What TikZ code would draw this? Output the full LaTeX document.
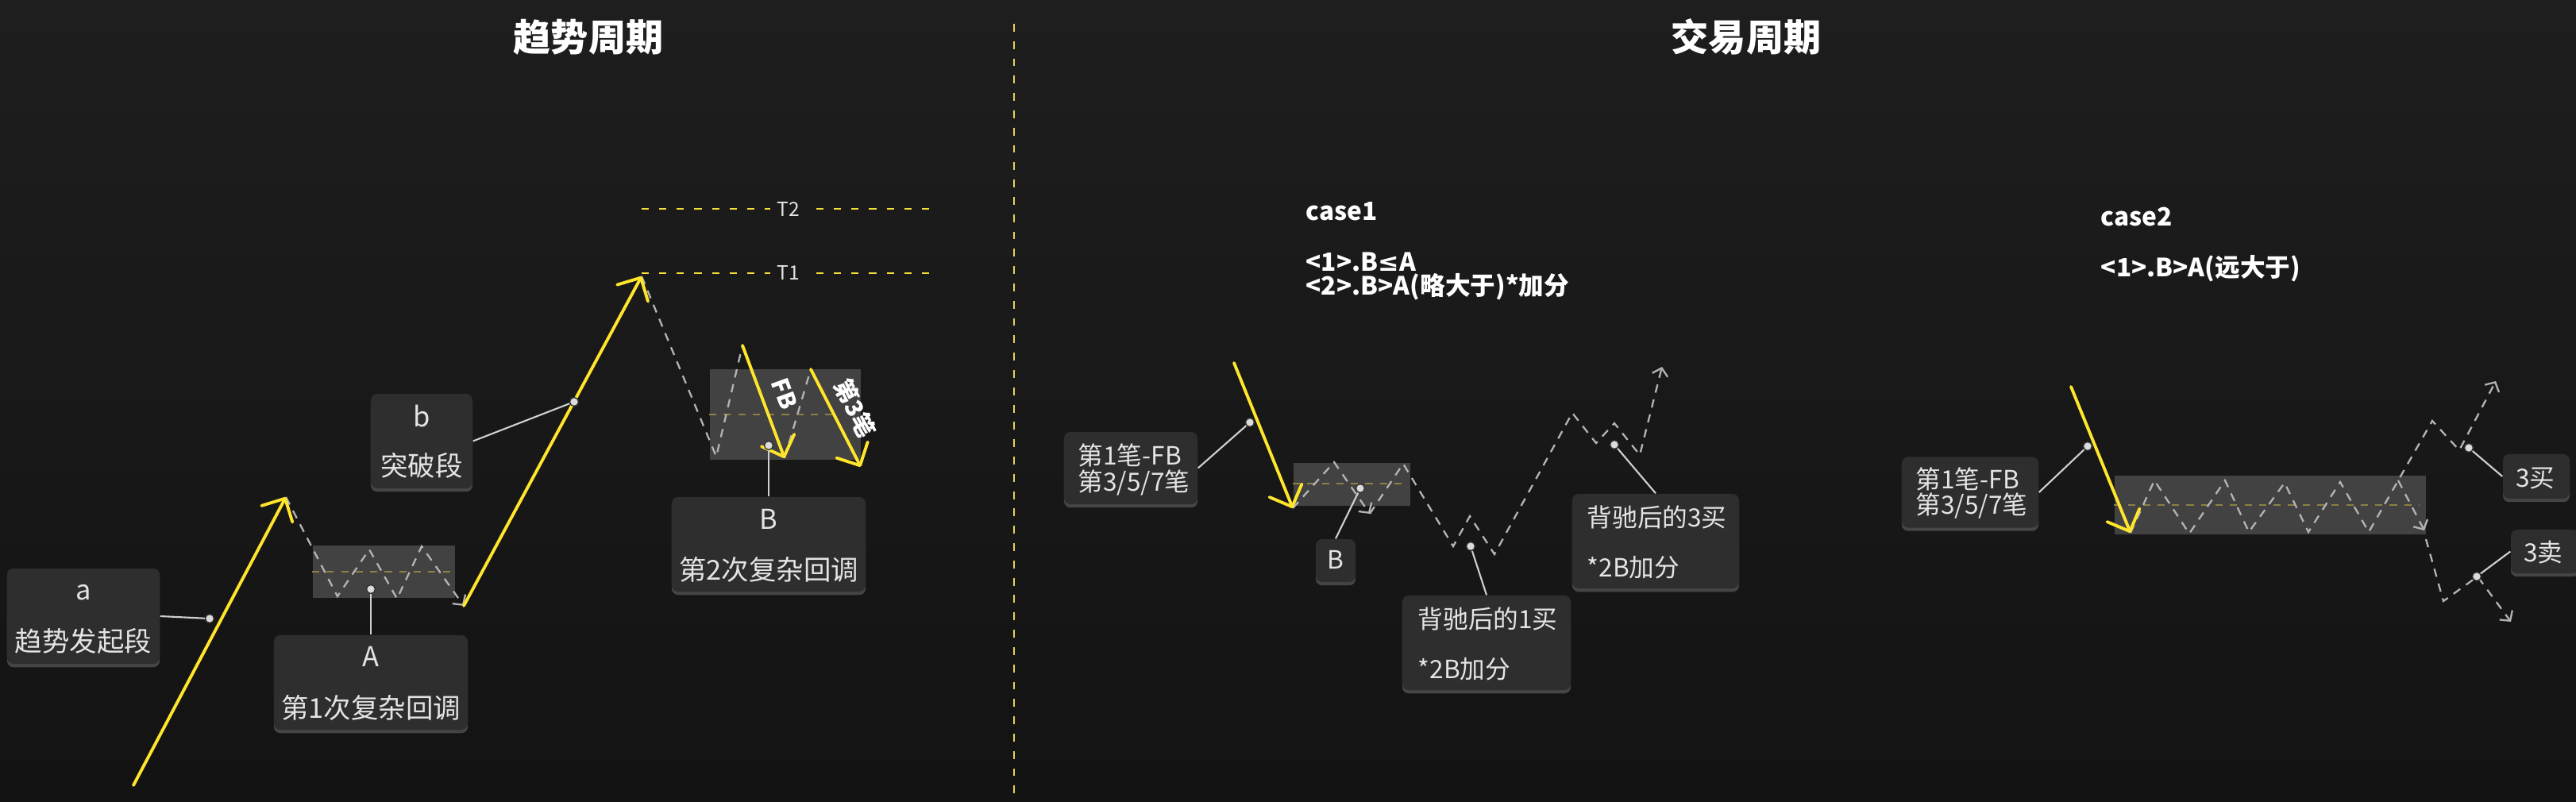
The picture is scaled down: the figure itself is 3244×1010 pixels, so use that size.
\documentclass[tikz,border=0pt]{standalone}
\usepackage{fontspec}
\setmainfont{Noto Sans CJK SC}
\newfontfamily\djv{DejaVu Sans}
\usetikzlibrary{arrows.meta,shadows}
\definecolor{bgtop}{HTML}{1E1E1E}
\definecolor{bgbot}{HTML}{131313}
\definecolor{yel}{HTML}{FFE52B}
\definecolor{yeldash}{HTML}{F5DD3A}
\definecolor{divc}{HTML}{E6D25A}
\definecolor{zone}{HTML}{424242}
\definecolor{olive}{HTML}{8C8244}
\definecolor{lbl}{HTML}{2E2E2E}
\definecolor{txt}{HTML}{E4E4E4}
\definecolor{gdash}{HTML}{B4B4B4}
\definecolor{dotc}{HTML}{DCDCDC}
\definecolor{connc}{HTML}{D0D0D0}
\tikzset{
 yarrow/.style={draw=yel, line width=1.1pt, line cap=round, -{Straight Barb[length=2.2mm,width=4.4mm,round]}},
 gpath/.style={draw=gdash, line width=0.65pt, dash pattern=on 3pt off 2.5pt},
 gtip/.style={-{Straight Barb[length=0.9mm,width=2mm]}},
 midline/.style={draw=olive, line width=0.6pt, dash pattern=on 2.6pt off 2.6pt},
 tline/.style={draw=yeldash, line width=0.6pt, dash pattern=on 2.6pt off 3.7pt},
 divider/.style={draw=divc, line width=0.6pt, dash pattern=on 2.8pt off 3.4pt},
 zonebox/.style={fill=zone},
 lblbox/.style={fill=lbl, rounded corners=0.08cm, inner sep=0pt, drop shadow={shadow xshift=0pt, shadow yshift=-1.2pt, opacity=0.45}},
 ltxt/.style={text=txt, inner sep=0pt, font=\fontsize{9.8pt}{11pt}\selectfont},
 rtxt/.style={text=txt, inner sep=0pt, font=\fontsize{9pt}{10pt}\selectfont},
 ttl/.style={text=white, inner sep=0pt, font=\bfseries\fontsize{13.4pt}{16pt}\selectfont},
 cond/.style={text=white, inner sep=0pt, font=\bfseries\fontsize{9pt}{10pt}\selectfont},
 tlab/.style={text=txt, inner sep=0pt, font=\fontsize{7pt}{8pt}\selectfont},
 rottxt/.style={text=white, inner sep=0pt, font=\bfseries\fontsize{8.5pt}{10pt}\selectfont},
 dotn/.style={circle, fill=dotc, draw=black!80, line width=0.4pt, minimum size=0.11cm, inner sep=0pt},
 conn/.style={draw=connc, line width=0.6pt},
}
\begin{document}
\begin{tikzpicture}[x=0.01cm,y=-0.01cm]
\clip (0,0) rectangle (3244,1010);
\shade[top color=bgtop,bottom color=bgbot] (0,0) rectangle (3244,1010);

% titles
\node[ttl,anchor=base] (title1) at (741,65) {趋势周期};
\node[ttl,anchor=base] (title2) at (2199,65) {交易周期};

% divider
\coordinate (dv1) at (1277,30);
\coordinate (dv2) at (1277,1010);
\draw[divider] (dv1) -- (dv2);

% zones
\fill[zonebox] (394,687) rectangle (573,753);
\fill[zonebox] (894,465) rectangle (1084,579);
\fill[zonebox] (1629,583) rectangle (1776,637);
\fill[zonebox] (2663,599) rectangle (3055,673);
\draw[midline] (393,720) -- (574,720);
\draw[midline] (893,522) -- (1057,522);
\draw[midline] (1628,609) -- (1770,609);
\draw[midline] (2662,636) -- (3047,636);

% T lines
\node[tlab,anchor=base] (t2) at (993,272.5) {T2};
\node[tlab,anchor=base] (t1) at (993,352.5) {T1};
\coordinate (t2a) at (808,263); \coordinate (t2b) at (970,263);
\coordinate (t2c) at (1028,263); \coordinate (t2d) at (1170,263);
\coordinate (t1a) at (808,344); \coordinate (t1b) at (970,344);
\coordinate (t1c) at (1028,344); \coordinate (t1d) at (1170,344);
\draw[tline] (t2a) -- (t2b); \draw[tline] (t2c) -- (t2d);
\draw[tline] (t1a) -- (t1b); \draw[tline] (t1c) -- (t1d);

% key points
\coordinate (y1s) at (168,989);  \coordinate (y1e) at (360,626);
\coordinate (y2s) at (584,763);  \coordinate (y2e) at (808,348);
\coordinate (fbs) at (935,435);  \coordinate (fbe) at (988,577);
\coordinate (s3s) at (1021,465); \coordinate (s3e) at (1084,588);
\coordinate (c1s) at (1554,457); \coordinate (c1e) at (1628,640);
\coordinate (c1v) at (1725,647);
\coordinate (c2s) at (2608,487); \coordinate (c2e) at (2683,671);

% gray dashed strokes
\draw[gpath,gtip] (y1e) -- (425,751) -- (465,692) -- (500,754) -- (531,688) -- (y2s);
\draw[gpath] (y2e) -- (902,575) -- (fbs);
\draw[gpath] (fbe) -- (s3s);
\draw[gpath,gtip] (c1e) -- (1680,582) -- (c1v);
\draw[gpath,gtip] (c1v) -- (1767,584) -- (1830,688) -- (1851,650) -- (1882,698) -- (1980,520) -- (2010,558) -- (2033,533) -- (2065,573) -- (2093,462);
\draw[gpath,gtip] (c2e) -- (2713,605) -- (2757,672) -- (2802,605) -- (2832,670) -- (2877,608) -- (2907,670) -- (2947,607) -- (2983,670) -- (3063,530) -- (3097,567) -- (3143,480);
\draw[gpath,gtip] (3020,605) -- (3053,668);
\draw[gpath,gtip] (3055,679) -- (3077,757) -- (3120,726) -- (3162,783);

% yellow strokes
\draw[yarrow] (y1s) -- (y1e);
\draw[yarrow] (y2s) -- (y2e);
\draw[yarrow] (fbs) -- (fbe);
\draw[yarrow] (s3s) -- (s3e);
\draw[yarrow] (c1s) -- (c1e);
\draw[yarrow] (c2s) -- (c2e);
\node[rottxt,rotate=-70] (fbtxt) at (988,496) {FB};
\node[rottxt,rotate=-63] (s3txt) at (1077,514) {第3笔};

% case texts
\node[cond,anchor=base west] (c1t) at (1644,278) {case1};
\node[cond,anchor=base west] (c1a) at (1644,342) {<1>.B{\djv\bfseries ≤}A};
\node[cond,anchor=base west] (c1b) at (1644,372) {<2>.B>A(略大于)*加分};
\node[cond,anchor=base west] (c2t) at (2645,285) {case2};
\node[cond,anchor=base west] (c2a) at (2645,349) {<1>.B>A(远大于)};

% label boxes
\node[lblbox,minimum width=1.92cm,minimum height=1.2cm] (boxa) at (105,776) {};
\node[lblbox,minimum width=1.28cm,minimum height=1.19cm] (boxb) at (531,555.5) {};
\node[lblbox,minimum width=2.44cm,minimum height=1.19cm] (boxA) at (467,859.5) {};
\node[lblbox,minimum width=2.44cm,minimum height=1.19cm] (boxB) at (968,685.5) {};
\node[lblbox,minimum width=1.68cm,minimum height=0.91cm] (boxF1) at (1424,589.5) {};
\node[lblbox,minimum width=0.50cm,minimum height=0.54cm] (boxcB) at (1682,706) {};
\node[lblbox,minimum width=2.12cm,minimum height=1.19cm] (box1b) at (1872,809.5) {};
\node[lblbox,minimum width=2.10cm,minimum height=1.19cm] (box3b) at (2085,681.5) {};
\node[lblbox,minimum width=1.72cm,minimum height=0.89cm] (boxF2) at (2481,620) {};
\node[lblbox,minimum width=0.84cm,minimum height=0.56cm] (box3m) at (3194,600) {};
\node[lblbox,minimum width=0.86cm,minimum height=0.55cm] (box3s) at (3205,694.5) {};

% label texts
\node[ltxt,anchor=base] (ta1) at (105,756) {a};
\node[ltxt,anchor=base] (ta2) at (105,821) {趋势发起段};
\node[ltxt,anchor=base] (tb1) at (531,538) {b};
\node[ltxt,anchor=base] (tb2) at (531,600) {突破段};
\node[ltxt,anchor=base] (tA1) at (467,840) {A};
\node[ltxt,anchor=base] (tA2) at (467,905) {第1次复杂回调};
\node[ltxt,anchor=base] (tB1) at (968,667) {B};
\node[ltxt,anchor=base] (tB2) at (968,731) {第2次复杂回调};
\node[rtxt,anchor=base west] (tF11) at (1357,586) {第1笔-FB};
\node[rtxt,anchor=base west] (tF12) at (1357,619) {第3/5/7笔};
\node[rtxt,anchor=base] (tcB) at (1682,717) {B};
\node[rtxt,anchor=base west] (t1b1) at (1785,792) {背驰后的1买};
\node[rtxt,anchor=base west] (t1b2) at (1785,855) {*2B加分};
\node[rtxt,anchor=base west] (t3b1) at (1998,664) {背驰后的3买};
\node[rtxt,anchor=base west] (t3b2) at (1998,727) {*2B加分};
\node[rtxt,anchor=base west] (tF21) at (2412,616) {第1笔-FB};
\node[rtxt,anchor=base west] (tF22) at (2412,648) {第3/5/7笔};
\node[rtxt,anchor=base] (t3m) at (3193,614) {3买};
\node[rtxt,anchor=base] (t3s) at (3203,708) {3卖};

% dots
\node[dotn] (da) at (264,779) {};
\node[dotn] (db) at (723,506) {};
\node[dotn] (dA) at (467,742) {};
\node[dotn] (dB) at (968,561) {};
\node[dotn] (d1) at (1574,532) {};
\node[dotn] (dcB) at (1713,615) {};
\node[dotn] (d1b) at (1852,688) {};
\node[dotn] (d3b) at (2033,560) {};
\node[dotn] (d2) at (2629,562) {};
\node[dotn] (d3m) at (3109,564) {};
\node[dotn] (d3s) at (3119,726) {};

% connectors
\draw[conn] (boxa.east) -- (da);
\draw[conn] (boxb.east) -- (db);
\draw[conn] (dA) -- (boxA.north);
\draw[conn] (dB) -- (boxB.north);
\draw[conn] (boxF1.east) -- (d1);
\draw[conn] (dcB) -- (boxcB.north);
\draw[conn] (d1b) -- (box1b.north);
\draw[conn] (d3b) -- (box3b.north);
\draw[conn] (boxF2.east) -- (d2);
\draw[conn] (d3m) -- (box3m.west);
\draw[conn] (d3s) -- (box3s.west);
\end{tikzpicture}
\end{document}
